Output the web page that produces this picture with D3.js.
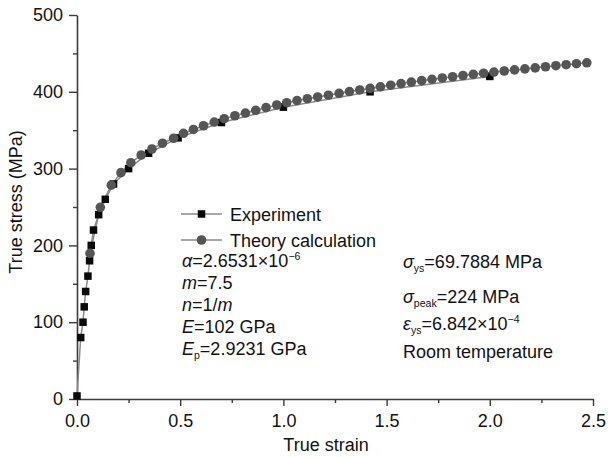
<!DOCTYPE html>
<html>
<head>
<meta charset="utf-8">
<script src="https://cdn.jsdelivr.net/npm/d3@7"></script>
<style>
html,body{margin:0;padding:0;background:#fff;}
svg{display:block;font-family:"Liberation Sans",Arial,sans-serif;}
</style>
</head>
<body>
<svg id="chart" width="608" height="457"></svg>
<script>
// Experiment data (true strain, true stress MPa)
const expStrain = [0, 0.018, 0.029, 0.035, 0.042, 0.053, 0.061, 0.069, 0.080, 0.105, 0.137, 0.177, 0.25, 0.347, 0.49, 0.70, 1.0, 1.42, 2.0];
const expStress = [4, 80, 100, 120, 140, 160, 180, 200, 220, 240, 260, 280, 300, 320, 340, 360, 380, 400, 420];

// Theory calculation
const thStrain = [0.063, 0.113, 0.166, 0.213, 0.261, 0.311, 0.363, 0.414, 0.468, 0.516, 0.564, 0.613, 0.665, 0.713, 0.765, 0.816, 0.866, 0.916, 0.968, 1.016, 1.066, 1.116, 1.166, 1.218, 1.27, 1.32, 1.37, 1.42, 1.47, 1.52, 1.57, 1.62, 1.67, 1.72, 1.77, 1.82, 1.87, 1.92, 1.97, 2.02, 2.07, 2.12, 2.17, 2.22, 2.27, 2.32, 2.37, 2.42, 2.47];
const thStress = [189.7, 249.6, 278.6, 294.7, 307.7, 317.7, 325.5, 333, 339.5, 346, 351, 355.8, 360.6, 365, 368.8, 372.3, 375.9, 379.4, 382.8, 385.8, 388.6, 391, 393.3, 395.6, 398, 400.3, 402.4, 404.4, 406.5, 408.6, 410.7, 412.6, 414.5, 416.3, 418, 419.6, 421.2, 422.7, 424.2, 425.7, 427.1, 428.5, 429.8, 431.2, 432.6, 434, 435.3, 436.6, 437.8];

const yTicks = [0, 100, 200, 300, 400, 500];
const yMinor = [50, 150, 250, 350, 450];
const xTicks = [0, 0.5, 1.0, 1.5, 2.0, 2.5];
const xMinor = [0.25, 0.75, 1.25, 1.75, 2.25];

const svg = d3.select("#chart");
const x = d3.scaleLinear().domain([0, 2.5]).range([77, 593]);
const y = d3.scaleLinear().domain([0, 500]).range([399, 15]);
const FS = 18;
const axisColor = "#3a3a3a";

// axes
const gx = svg.append("g").attr("transform", "translate(0,399)")
  .call(d3.axisBottom(x).tickValues(xTicks).tickFormat(d3.format(".1f")).tickSizeInner(7).tickSizeOuter(0).tickPadding(8));
const gxm = svg.append("g").attr("transform", "translate(0,399)")
  .call(d3.axisBottom(x).tickValues(xMinor).tickFormat("").tickSizeInner(4).tickSizeOuter(0));
const gy = svg.append("g").attr("transform", "translate(77,0)")
  .call(d3.axisLeft(y).tickValues(yTicks).tickFormat(d3.format("d")).tickSizeInner(8).tickSizeOuter(0).tickPadding(6));
const gym = svg.append("g").attr("transform", "translate(77,0)")
  .call(d3.axisLeft(y).tickValues(yMinor).tickFormat("").tickSizeInner(4).tickSizeOuter(0));
[gx, gxm, gy, gym].forEach(g => {
  g.selectAll("path").attr("stroke", axisColor).attr("stroke-width", 1.6);
  g.selectAll("line").attr("stroke", axisColor).attr("stroke-width", 1.4);
  g.selectAll("text").attr("font-size", FS).attr("fill", "#111").attr("font-family", "Liberation Sans, Arial, sans-serif");
});
gym.select("path").remove();
gxm.select("path").remove();

// axis titles
svg.append("text").attr("x", 326).attr("y", 451).attr("text-anchor", "middle")
  .attr("font-size", FS).attr("fill", "#111").text("True strain");
svg.append("text").attr("transform", "translate(22,202) rotate(-90)").attr("text-anchor", "middle")
  .attr("font-size", FS).attr("fill", "#111").text("True stress (MPa)");

// data
const expData = expStrain.map((d, i) => [d, expStress[i]]);
const thData = thStrain.map((d, i) => [d, thStress[i]]);
const line = d3.line().x(d => x(d[0])).y(d => y(d[1]));
const lineColor = "#8a8a8a";

svg.append("path").datum(expData).attr("d", line).attr("fill", "none").attr("stroke", lineColor).attr("stroke-width", 1.5);
svg.append("path").datum(thData).attr("d", line).attr("fill", "none").attr("stroke", lineColor).attr("stroke-width", 1.5);

const sq = 7.5;
svg.append("g").selectAll("rect").data(expData).join("rect")
  .attr("x", d => x(d[0]) - sq / 2).attr("y", d => y(d[1]) - sq / 2)
  .attr("width", sq).attr("height", sq).attr("fill", "#0a0a0a");
svg.append("g").selectAll("circle").data(thData).join("circle")
  .attr("cx", d => x(d[0])).attr("cy", d => y(d[1])).attr("r", 4.8).attr("fill", "#555");

// legend
const legend = [
  {label: "Experiment", type: "sq", yy: 214},
  {label: "Theory calculation", type: "ci", yy: 240}
];
legend.forEach(l => {
  svg.append("line").attr("x1", 181).attr("x2", 222).attr("y1", l.yy).attr("y2", l.yy)
    .attr("stroke", lineColor).attr("stroke-width", 1.5);
  if (l.type === "sq") {
    svg.append("rect").attr("x", 201.5 - sq / 2).attr("y", l.yy - sq / 2).attr("width", sq).attr("height", sq).attr("fill", "#0a0a0a");
  } else {
    svg.append("circle").attr("cx", 201.5).attr("cy", l.yy).attr("r", 4.8).attr("fill", "#555");
  }
  svg.append("text").attr("x", 230).attr("y", l.yy + 6.5).attr("font-size", FS).attr("fill", "#111").text(l.label);
});

// annotation helper: parts = [text, style] where style: 'i' italic, 'sub', 'sup', '' normal
function rich(xp, yp, parts) {
  const t = svg.append("text").attr("x", xp).attr("y", yp).attr("font-size", FS).attr("fill", "#111");
  let prev = 0;
  parts.forEach(p => {
    const s = t.append("tspan").text(p[0]);
    if (p[1] === "i") s.attr("font-style", "italic");
    if (p[1] === "sub") { s.attr("font-size", 10.5).attr("dy", 4 + prev); prev = -4; }
    else if (p[1] === "sup") { s.attr("font-size", 10.5).attr("dy", -7 + prev); prev = 7; }
    else { if (prev !== 0) s.attr("dy", prev); prev = 0; }
  });
}

rich(182, 267, [["\u03b1", "i"], ["=2.6531\u00d710", ""], ["\u22126", "sup"]]);
rich(182, 289, [["m", "i"], ["=7.5", ""]]);
rich(182, 311, [["n", "i"], ["=1/", ""], ["m", "i"]]);
rich(182, 333, [["E", "i"], ["=102 GPa", ""]]);
rich(182, 355, [["E", "i"], ["p", "sub"], ["=2.9231 GPa", ""]]);

rich(403, 268, [["\u03c3", "i"], ["ys", "sub"], ["=69.7884 MPa", ""]]);
rich(403, 303, [["\u03c3", "i"], ["peak", "sub"], ["=224 MPa", ""]]);
rich(403, 330, [["\u03b5", "i"], ["ys", "sub"], ["=6.842\u00d710", ""], ["\u22124", "sup"]]);
rich(403, 358, [["Room temperature", ""]]);
</script>
</body>
</html>
